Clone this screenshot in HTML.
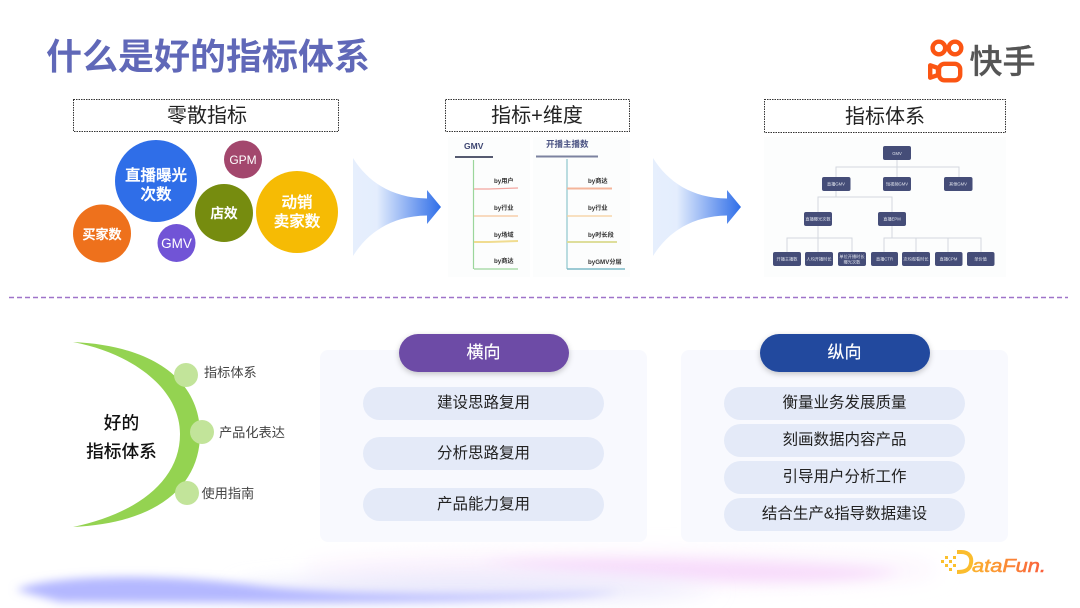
<!DOCTYPE html>
<html><head><meta charset="utf-8">
<style>
html,body{margin:0;padding:0;background:#fff}
#p{position:relative;width:1080px;height:608px;overflow:hidden;background:#fff;font-family:"Liberation Sans","Noto Sans CJK SC",sans-serif}
#p svg{position:absolute;left:0;top:0}
</style></head>
<body><div id="p">
<svg width="1080" height="608" viewBox="0 0 1080 608" font-family="'Liberation Sans','Noto Sans CJK SC',sans-serif">
<defs>
<linearGradient id="f" x1="0" x2="1" y1="0" y2="0"><stop offset="0" stop-color="#e6effd"/><stop offset=".27" stop-color="#e4edfd"/><stop offset="1" stop-color="#2f6ee8"/></linearGradient>
<linearGradient id="dfg" gradientUnits="userSpaceOnUse" x1="972" x2="1046" y1="0" y2="0"><stop offset="0" stop-color="#fbb32e"/><stop offset="1" stop-color="#fa5b3c"/></linearGradient>
<filter id="b" filterUnits="userSpaceOnUse" x="-100" y="500" width="1300" height="200"><feGaussianBlur stdDeviation="6"/></filter>
<filter id="b3" filterUnits="userSpaceOnUse" x="-100" y="500" width="1300" height="200"><feGaussianBlur stdDeviation="4.500"/></filter>
<filter id="b2" filterUnits="userSpaceOnUse" x="-100" y="500" width="1300" height="200"><feGaussianBlur stdDeviation="11"/></filter>
<filter id="s" x="-20%" y="-40%" width="140%" height="190%"><feDropShadow dx="0" dy="2" stdDeviation="3" flood-color="#000" flood-opacity=".22"/></filter>
<filter id="soft" filterUnits="userSpaceOnUse" x="440" y="130" width="580" height="155"><feGaussianBlur stdDeviation=".35"/></filter>
</defs>

<!-- bottom glow -->
<ellipse cx="620" cy="570" rx="320" ry="17" fill="#fbf1fd" filter="url(#b2)"/>
<path d="M480 562 C600 556 800 560 900 572 C860 582 760 584 680 578 C610 574 540 570 480 562 Z" fill="#f8dcfb" filter="url(#b)"/>
<path d="M240 588 C400 570 600 575 720 590 C640 600 400 603 240 597 Z" fill="#e6e6fb" filter="url(#b2)"/>
<path d="M16 590 C50 574 170 573 260 586 C340 596 500 596 620 592 C560 602 300 604 60 602 Z" fill="#b4b8ff" filter="url(#b3)"/>

<!-- title -->
<text x="46" y="69" font-size="36" font-weight="700" fill="#6068b8">什么是好的指标体系</text>

<!-- logo -->
<g fill="none" stroke="#fb5513" stroke-width="4.400" stroke-linejoin="round">
<circle cx="938.900" cy="48" r="6.300"/><circle cx="955" cy="48" r="6.300"/>
<rect x="939" y="63.800" width="21.200" height="16.500" rx="5.500"/>
<path d="M938 68 L930.200 65.300 V77.700 L938 75 Z"/>
</g>
<text x="969.500" y="73" font-size="33" font-weight="500" fill="#555" stroke="#555" stroke-width=".3">快手</text>

<!-- headers -->
<g fill="#fff" stroke="#333" stroke-width="1" stroke-dasharray="1.500 1">
<rect x="73.500" y="99.500" width="265" height="32"/>
<rect x="445.500" y="99.500" width="184" height="32"/>
<rect x="764.500" y="99.500" width="241" height="33"/>
</g>
<g font-size="20" fill="#222" text-anchor="middle">
<text x="207" y="122">零散指标</text>
<text x="537" y="122">指标+维度</text>
<text x="885" y="123">指标体系</text>
</g>

<!-- bubbles -->
<circle cx="156" cy="181" r="41" fill="#2f6ee8"/>
<circle cx="243" cy="159.500" r="19" fill="#a3476d"/>
<circle cx="224" cy="213" r="29" fill="#768c0f"/>
<circle cx="297" cy="212" r="41" fill="#f6bb04"/>
<circle cx="102" cy="233.500" r="29" fill="#ee711c"/>
<circle cx="176.500" cy="243" r="19" fill="#7154d6"/>
<g fill="#fff" text-anchor="middle" font-weight="500" stroke="#fff" stroke-width=".35">
<text x="156" y="180.500" font-size="15.500">直播曝光</text>
<text x="156" y="199.500" font-size="15.500">次数</text>
<text x="224" y="218" font-size="13.500">店效</text>
<text x="297" y="207.500" font-size="15.500">动销</text>
<text x="297" y="226.500" font-size="15.500">卖家数</text>
<text x="102" y="239" font-size="13">买家数</text>
</g>
<g fill="#fff" text-anchor="middle">
<text x="243" y="164" font-size="12">GPM</text>
<text x="176.500" y="248" font-size="13.500">GMV</text>
</g>

<!-- funnels -->
<path d="M353 158 C368 182 392 198 427 198.500 V190 L441 207 L427 224 V215.500 C392 216 368 232 353 256 Z" fill="url(#f)"/>
<path d="M653 158 C668 182 692 198 727 198.500 V190 L741 207 L727 224 V215.500 C692 216 668 232 653 256 Z" fill="url(#f)"/>

<!-- mid panel -->
<g filter="url(#soft)">
<rect x="448" y="137" width="82" height="140" fill="#fcfdfd"/>
<rect x="533" y="137" width="97" height="140" fill="#fcfdfd"/>
<text x="464" y="149" font-size="8.500" font-weight="700" fill="#3c4470">GMV</text>
<text x="546" y="147" font-size="8.500" font-weight="700" fill="#4b5383">开播主播数</text>
<path d="M455 157 H493" stroke="#555a70" stroke-width="2"/>
<path d="M536 156.500 H598" stroke="#7c82a0" stroke-width="2"/>
<g fill="none" stroke-width="1.200">
<path d="M473.500 160 V269" stroke="#9bd69b"/>
<path d="M567 159 V269" stroke="#8fc6cc"/>
<path d="M474 189 H489 L518 188" stroke="#f2a6a0"/>
<path d="M474 216 H518" stroke="#f5c69a"/>
<path d="M474 242 H489 L518 241" stroke="#f0dc90" stroke-width="2"/>
<path d="M474 269 H518" stroke="#9bd69b"/>
<path d="M567 188.500 H612" stroke="#f4b59a" stroke-width="2"/>
<path d="M567 216 H612" stroke="#f6cf9b"/>
<path d="M567 242 H617" stroke="#dede9b" stroke-width="2"/>
<path d="M567 269 H625" stroke="#7cb9c6" stroke-width="1.500"/>
</g>
<g font-size="6.200" font-weight="700" fill="#333">
<text x="494" y="183">by用户</text>
<text x="494" y="210">by行业</text>
<text x="494" y="237">by场域</text>
<text x="494" y="263">by商达</text>
<text x="588" y="183">by商达</text>
<text x="588" y="210">by行业</text>
<text x="588" y="237">by时长段</text>
<text x="588" y="264">byGMV分层</text>
</g>

<!-- tree panel -->
<rect x="764" y="137" width="242" height="140" fill="#fcfdfd"/>
<g fill="none" stroke="#d3d8df" stroke-width="1">
<path d="M897 160 V167 M836 177 V167 H959 V177 M897 167 V177"/>
<path d="M836 190 V197 M818 212 V197 H892 V212"/>
<path d="M818 225 V238 M787 253 V238 H852 V253 M818 238 V253"/>
<path d="M892 225 V238 M884 253 V238 H981 V253 M916 238 V253 M948 238 V253"/>
</g>
<g fill="#454d78">
<rect x="883" y="146" width="28" height="14" rx="2"/>
<rect x="822" y="177" width="28.500" height="14" rx="2"/>
<rect x="883" y="177" width="28" height="14" rx="2"/>
<rect x="944" y="177" width="28.500" height="14" rx="2"/>
<rect x="804" y="212" width="28" height="14" rx="2"/>
<rect x="878" y="212" width="28" height="14" rx="2"/>
<rect x="773" y="252" width="28" height="14" rx="2"/>
<rect x="805" y="252" width="28" height="14" rx="2"/>
<rect x="838" y="252" width="28" height="14" rx="2"/>
<rect x="871" y="252" width="27" height="14" rx="2"/>
<rect x="902" y="252" width="28" height="14" rx="2"/>
<rect x="935" y="252" width="27.500" height="14" rx="2"/>
<rect x="967" y="252" width="27.500" height="14" rx="2"/>
</g>
<g font-size="4.200" fill="#dfe2ec" text-anchor="middle">
<text x="897" y="155">GMV</text>
<text x="836" y="185.500">直播GMV</text>
<text x="897" y="185.500">短视频GMV</text>
<text x="958" y="185.500">其他GMV</text>
<text x="818" y="220.500">直播曝光次数</text>
<text x="892" y="220.500">直播EPM</text>
<text x="787" y="260.500">开播主播数</text>
<text x="819" y="260.500">人均开播时长</text>
<text x="852" y="258">单位开播时长</text>
<text x="852" y="263.500">曝光次数</text>
<text x="884.500" y="260.500">直播CTR</text>
<text x="916" y="260.500">次均观看时长</text>
<text x="948.500" y="260.500">直播CPM</text>
<text x="980.500" y="260.500">单价值</text>
</g>
</g>

<!-- divider -->
<line x1="9" y1="297.500" x2="1068" y2="297.500" stroke="#9f73c9" stroke-width="1.500" stroke-dasharray="5 3"/>

<!-- crescent -->
<path d="M73 342 C160 346 200 385 200 434 C200 484 160 523 73 527 C135 514 180 482 180 434 C180 390 135 354 73 342 Z" fill="#94d351"/>
<circle cx="186" cy="375" r="12" fill="#c2e49a"/>
<circle cx="202" cy="432" r="12" fill="#c2e49a"/>
<circle cx="187" cy="493" r="12" fill="#c2e49a"/>
<g font-size="13.200" fill="#444">
<text x="204" y="377">指标体系</text>
<text x="219" y="437">产品化表达</text>
<text x="201.500" y="498">使用指南</text>
</g>
<g font-size="17.700" fill="#111" text-anchor="middle" font-weight="500">
<text x="121.500" y="429">好的</text>
<text x="121.500" y="457.500">指标体系</text>
</g>

<!-- panels -->
<rect x="320" y="350" width="327" height="192" rx="8" fill="#f8f9fe"/>
<rect x="681" y="350" width="327" height="192" rx="8" fill="#f8f9fe"/>
<rect x="399" y="334" width="170" height="38" rx="19" fill="#6d4ba6" filter="url(#s)"/>
<rect x="760" y="334" width="170" height="38" rx="19" fill="#234a9e" filter="url(#s)"/>
<g font-size="17" fill="#fff" text-anchor="middle" stroke="#fff" stroke-width=".2">
<text x="483.500" y="358">横向</text>
<text x="844.500" y="358">纵向</text>
</g>
<g fill="#e4eaf8">
<rect x="363" y="387" width="241" height="33" rx="16.500"/>
<rect x="363" y="437" width="241" height="33" rx="16.500"/>
<rect x="363" y="488" width="241" height="33" rx="16.500"/>
<rect x="724" y="387" width="241" height="33" rx="16.500"/>
<rect x="724" y="424" width="241" height="33" rx="16.500"/>
<rect x="724" y="461" width="241" height="33" rx="16.500"/>
<rect x="724" y="498" width="241" height="33" rx="16.500"/>
</g>
<g font-size="15.500" fill="#222" text-anchor="middle">
<text x="483.500" y="407.500">建设思路复用</text>
<text x="483.500" y="458">分析思路复用</text>
<text x="483.500" y="509">产品能力复用</text>
<text x="844.500" y="407.500">衡量业务发展质量</text>
<text x="844.500" y="444.500">刻画数据内容产品</text>
<text x="844.500" y="481.500">引导用户分析工作</text>
<text x="844.500" y="518.500">结合生产&amp;指导数据建设</text>
</g>

<!-- DataFun -->
<g fill="#fbc02d">
<rect x="941" y="560" width="3" height="3"/><rect x="945" y="556" width="3" height="3"/><rect x="945" y="564" width="3" height="3"/>
<rect x="949" y="560" width="3" height="3"/><rect x="953" y="556" width="3" height="3"/><rect x="949" y="568" width="3" height="3"/><rect x="953" y="564" width="3" height="3"/>
</g>
<path d="M957 552 H961 C970 552 972 558 971 563 C970 570 965 572 957 572" fill="none" stroke="#fbbd2e" stroke-width="4"/>
<text x="972" y="572" font-size="18" font-style="italic" fill="url(#dfg)" stroke="url(#dfg)" stroke-width=".5" textLength="74" lengthAdjust="spacingAndGlyphs">ataFun.</text>
</svg>
</div></body></html>
